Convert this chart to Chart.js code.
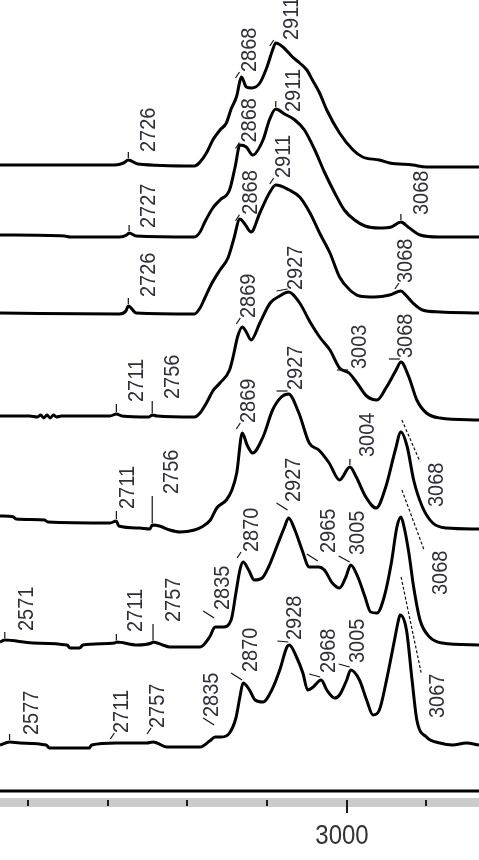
<!DOCTYPE html>
<html lang="en">
<head>
<meta charset="utf-8">
<title>IR spectra 2560-3170 cm-1</title>
<script src="https://cdn.jsdelivr.net/npm/chart.js"></script>
<style>
  html, body { margin: 0; padding: 0; background: #fff; }
  #wrap { width: 479px; height: 860px; }
</style>
</head>
<body>
<div id="wrap"><canvas id="spectra" width="479" height="860"></canvas></div>

<script>
// [wavenumber cm-1, stacked intensity (arb. units)], top trace first
const spectrum1 = [[2565,626],[2709,626],[2720,628],[2726,631],[2738,627],[2809,625],[2816,629],[2824,638],[2832,651],[2841,661],[2849,668],[2855,682],[2862,695],[2866,710],[2868,714],[2874,704],[2881,703],[2891,708],[2900,724],[2907,741],[2911,748],[2920,744],[2932,734],[2941,728],[2950,721],[2957,711],[2966,698],[2975,681],[2991,658],[3008,641],[3020,634],[3041,631],[3054,628],[3083,626],[3100,624],[3166,624]];
const spectrum2 = [[2565,556],[2646,555],[2653,554],[2715,554],[2724,556],[2727,558],[2736,555],[2809,554],[2816,559],[2822,569],[2832,583],[2841,591],[2853,601],[2860,624],[2866,646],[2874,644],[2882,636],[2895,651],[2903,671],[2911,682],[2922,677],[2935,671],[2947,661],[2960,641],[2972,619],[2985,598],[2997,581],[3010,571],[3023,565],[3041,563],[3056,564],[3068,569],[3077,564],[3092,556],[3116,554],[3166,554]];
const spectrum3 = [[2565,478],[2715,477],[2723,480],[2726,485],[2736,478],[2809,477],[2816,483],[2822,493],[2831,508],[2841,521],[2851,533],[2858,551],[2866,572],[2873,566],[2880,559],[2891,578],[2903,598],[2911,606],[2928,601],[2941,594],[2954,578],[2966,558],[2979,538],[2991,514],[3004,501],[3016,495],[3035,494],[3054,496],[3068,500],[3074,496],[3083,488],[3095,481],[3117,479],[3166,478]];
const spectrum4 = [[2565,375],[2602,375],[2612,374],[2616,376],[2620,373],[2624,376],[2628,373],[2632,376],[2636,374],[2642,375],[2703,375],[2711,377],[2718,375],[2752,374],[2756,376],[2762,375],[2809,374],[2816,378],[2824,388],[2832,400],[2841,408],[2853,421],[2858,436],[2863,454],[2869,464],[2874,459],[2880,451],[2891,468],[2904,488],[2916,495],[2927,499],[2941,488],[2954,469],[2966,454],[2979,441],[2991,423],[3003,418],[3013,408],[3025,395],[3038,391],[3050,404],[3062,421],[3068,429],[3078,414],[3088,391],[3100,378],[3117,373],[3166,371]];
const spectrum5 = [[2565,275],[2582,274],[2585,272],[2621,271],[2625,269],[2703,268],[2711,270],[2714,265],[2740,263],[2753,262],[2756,266],[2765,265],[2778,261],[2791,259],[2809,261],[2818,264],[2829,271],[2837,283],[2849,291],[2856,301],[2862,318],[2869,358],[2875,346],[2882,338],[2895,354],[2907,381],[2918,394],[2927,397],[2940,378],[2953,348],[2965,341],[2978,328],[2991,311],[3004,324],[3012,314],[3024,294],[3037,283],[3049,304],[3061,341],[3068,359],[3076,344],[3084,311],[3095,284],[3108,268],[3125,263],[3166,262]];
const spectrum6 = [[2565,149],[2571,151],[2606,148],[2649,146],[2653,143],[2665,143],[2669,146],[2709,148],[2711,149],[2737,146],[2755,148],[2757,149],[2769,146],[2778,144],[2816,144],[2828,154],[2835,164],[2845,164],[2855,171],[2861,198],[2866,221],[2870,229],[2877,221],[2884,211],[2894,213],[2902,224],[2914,248],[2922,264],[2927,273],[2935,261],[2944,241],[2953,224],[2965,224],[2972,221],[2982,208],[2991,203],[2999,214],[3005,226],[3014,214],[3023,194],[3030,179],[3038,178],[3047,194],[3056,228],[3063,264],[3068,274],[3072,264],[3078,238],[3084,204],[3092,171],[3104,154],[3120,148],[3166,146]];
const spectrum7 = [[2565,46],[2577,49],[2590,48],[2623,46],[2627,43],[2677,43],[2680,46],[2711,48],[2749,48],[2757,49],[2762,48],[2774,44],[2816,44],[2828,50],[2835,54],[2843,54],[2853,58],[2861,73],[2866,94],[2870,108],[2878,101],[2885,91],[2895,89],[2906,101],[2916,121],[2925,144],[2928,146],[2937,134],[2945,118],[2951,101],[2958,104],[2968,111],[2975,101],[2985,93],[2991,96],[3000,111],[3005,121],[3016,111],[3025,91],[3033,76],[3041,81],[3050,111],[3060,151],[3065,171],[3067,176],[3075,161],[3082,111],[3088,71],[3100,54],[3117,48],[3133,46],[3150,48],[3166,46]];

const spectra = [spectrum1, spectrum2, spectrum3, spectrum4, spectrum5, spectrum6, spectrum7];

// axis
const tickValues = [2600, 2700, 2800, 2900, 3000, 3100];
const tickLabels = ['', '', '', '', '3000', ''];

// peak annotations: [spectrum index, wavenumber, text]
const peakLabels = [
  [0, 2726, '2726'], [0, 2868, '2868'], [0, 2911, '2911'],
  [1, 2727, '2727'], [1, 2868, '2868'], [1, 2911, '2911'], [1, 3068, '3068'],
  [2, 2726, '2726'], [2, 2868, '2868'], [2, 2911, '2911'], [2, 3068, '3068'],
  [3, 2711, '2711'], [3, 2756, '2756'], [3, 2869, '2869'], [3, 2927, '2927'], [3, 3003, '3003'], [3, 3068, '3068'],
  [4, 2711, '2711'], [4, 2756, '2756'], [4, 2869, '2869'], [4, 2927, '2927'], [4, 3004, '3004'], [4, 3068, '3068'],
  [5, 2571, '2571'], [5, 2711, '2711'], [5, 2757, '2757'], [5, 2835, '2835'], [5, 2870, '2870'], [5, 2927, '2927'], [5, 2965, '2965'], [5, 3005, '3005'], [5, 3068, '3068'],
  [6, 2577, '2577'], [6, 2711, '2711'], [6, 2757, '2757'], [6, 2835, '2835'], [6, 2870, '2870'], [6, 2928, '2928'], [6, 2968, '2968'], [6, 3005, '3005'], [6, 3067, '3067']
];
// where each label sits relative to its peak (px): [dx, dy, marker, leader start]
const labelPlace = [
  [19, 8, 'v'], [7, 5, 's'], [14, 3, 's'],
  [18, 5, 'v'], [7, 3, 's'], [16, -3, 'v'], [19, 7, 'v'],
  [19, 9, 'v'], [8, 6, 's'], [6, 7, 's'], [3, 8, 's'],
  [19, 12, 'v'], [19, 16, 'v'], [5, 9, 's'], [6, 2, 'b'], [9, 4, 'b'], [3, 4, 'b'],
  [10, 12, 'v'], [18, 31, 'v'], [5, 10, 's'], [6, 4, 'b'], [16, 10, 'v'], [34, -75, 'lead', 12],
  [20, 9, 'v'], [18, 10, 'v'], [19, 20, 'v'], [6, 17, 'b'], [7, 10, 's'], [4, 16, 'b'], [8, 14, 'b'], [5, 10, 'b'], [38, -78, 'lead', 27],
  [20, 7, 'v'], [4, 10, 's'], [3, 14, 's'], [-5, 20, 'b'], [6, 11, 'b'], [4, 5, 'b'], [6, 7, 'b'], [5, 7, 'b'], [36, -103, 'lead', 38]
];

function valueAt(data, nu) {
  for (let i = 1; i < data.length; i++) {
    if (nu <= data[i][0]) {
      const [x0, y0] = data[i - 1], [x1, y1] = data[i];
      return y0 + (y1 - y0) * (nu - x0) / (x1 - x0);
    }
  }
  return data[data.length - 1][1];
}

// peak labels, markers and the bottom axis
const spectrumDecor = {
  id: 'spectrumDecor',
  afterDatasetsDraw(chart) {
    const { ctx, chartArea, scales: { x, y } } = chart;
    ctx.save();

    // peak labels
    ctx.font = '20px "Liberation Sans", Arial, sans-serif';
    ctx.fillStyle = '#30303a';
    ctx.strokeStyle = '#111';
    ctx.lineWidth = 1.2;
    peakLabels.forEach((p, i) => {
      const [s, nu, text] = p;
      const [dx, dy, kind, lead] = labelPlace[i];
      const px = x.getPixelForValue(nu);
      const py = y.getPixelForValue(valueAt(spectra[s], nu));
      const tx = px + dx, ty = py - dy;
      const w = ctx.measureText(text).width;

      ctx.beginPath();
      if (kind === 'v') {
        ctx.moveTo(px, py - 2);
        ctx.lineTo(px, Math.min(py - 8, ty + 2));
      } else if (kind === 's') {
        ctx.moveTo(px - 6, ty + 6);
        ctx.lineTo(px - 2, ty);
      } else if (kind === 'b') {
        ctx.moveTo(px - 12, ty + 1);
        ctx.lineTo(px - 1, Math.min(py - 3, ty + 8));
      } else if (kind === 'lead') {
        ctx.setLineDash([3, 2]);
        ctx.moveTo(px + 1, py - lead);
        ctx.lineTo(tx - 15, ty - w - 1);
      }
      ctx.stroke();
      ctx.setLineDash([]);

      // rotated text, digits a little taller than the font's own shape
      ctx.save();
      ctx.translate(tx, ty);
      ctx.rotate(-Math.PI / 2);
      ctx.scale(1, 1.12);
      ctx.textAlign = 'left';
      ctx.textBaseline = 'alphabetic';
      ctx.fillText(text, 0, 7.1);
      ctx.restore();
    });

    // axis line, grey band with ticks, and tick label
    const base = chartArea.bottom;
    ctx.strokeStyle = '#000';
    ctx.lineWidth = 3;
    ctx.beginPath();
    ctx.moveTo(chartArea.left, base);
    ctx.lineTo(chartArea.right, base);
    ctx.stroke();

    ctx.fillStyle = '#cbcbcb';
    ctx.fillRect(chartArea.left, base + 7, chartArea.right - chartArea.left, 9);

    ctx.strokeStyle = '#1a1a1a';
    ctx.lineWidth = 2;
    ctx.font = '24px "Liberation Sans", Arial, sans-serif';
    ctx.fillStyle = '#333';
    ctx.textAlign = 'center';
    tickValues.forEach((v, i) => {
      const tx = Math.round(x.getPixelForValue(v));
      const major = tickLabels[i] !== '';
      ctx.beginPath();
      ctx.moveTo(tx, base + 9);
      ctx.lineTo(tx, base + (major ? 22 : 15));
      ctx.stroke();
      if (major) {
        ctx.save();
        ctx.translate(tx - 5, base + 53);
        ctx.scale(1, 1.17);
        ctx.fillText(tickLabels[i], 0, 0);
        ctx.restore();
      }
    });

    ctx.restore();
  }
};

const datasets = spectra.map((s, i) => ({
  label: 'Spectrum ' + (i + 1),
  data: s.map(([nu, a]) => ({ x: nu, y: a })),
  borderColor: '#000',
  borderWidth: 3,
  borderJoinStyle: 'round',
  pointRadius: 0,
  fill: false,
  cubicInterpolationMode: 'monotone'
}));

new Chart(document.getElementById('spectra'), {
  type: 'line',
  data: { datasets: datasets },
  options: {
    responsive: false,
    animation: false,
    layout: { padding: { left: 0, right: 0, top: 0, bottom: 69 } },
    scales: {
      x: { type: 'linear', min: 2565, max: 3166, display: false },
      y: { min: 0, max: 791, display: false }
    },
    plugins: {
      legend: { display: false },
      tooltip: { enabled: false }
    }
  },
  plugins: [spectrumDecor]
});
</script>
</body>
</html>
